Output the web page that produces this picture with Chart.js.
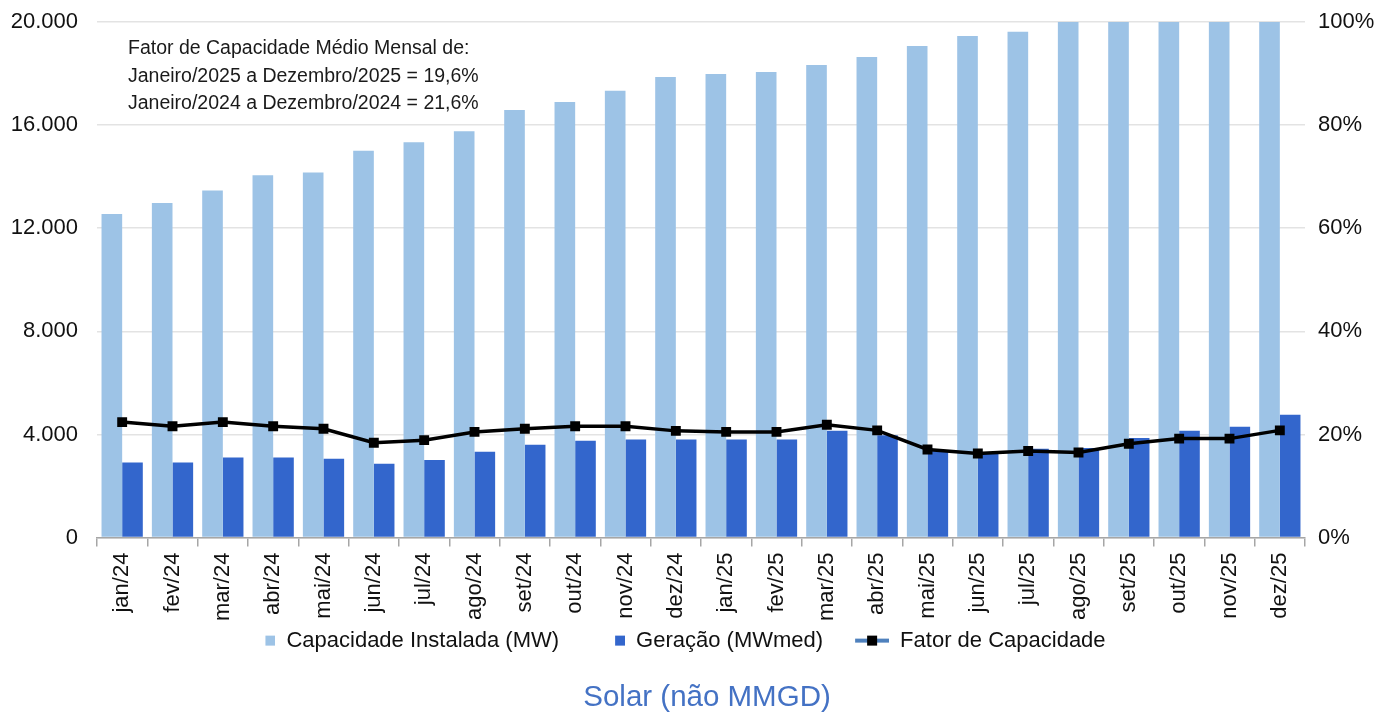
<!DOCTYPE html>
<html>
<head>
<meta charset="utf-8">
<script src="https://cdn.jsdelivr.net/npm/chart.js@4.4.1/dist/chart.umd.min.js"></script>
<style>
  html, body { margin: 0; padding: 0; background: #fff; }
  #wrap { width: 1378px; height: 713px; }
</style>
</head>
<body>
<div id="wrap"><canvas id="grafico"></canvas></div>
<script>
// meses jan/24 .. dez/25
const meses = ["jan/24","fev/24","mar/24","abr/24","mai/24","jun/24","jul/24","ago/24","set/24","out/24","nov/24","dez/24",
               "jan/25","fev/25","mar/25","abr/25","mai/25","jun/25","jul/25","ago/25","set/25","out/25","nov/25","dez/25"];

// Capacidade Instalada (MW) - barras claras (ago/25 em diante passam do topo do eixo)
const capacidade = [12550, 12980, 13460, 14060, 14160, 15010, 15340, 15760, 16590, 16900, 17330, 17870,
                    17980, 18060, 18330, 18640, 19070, 19460, 19620, 20300, 20700, 21000, 21300, 21600];

// Geração (MWmed) - barras escuras
const geracao = [2910, 2910, 3110, 3110, 3060, 2860, 3010, 3330, 3600, 3760, 3810, 3810,
                 3810, 3810, 4140, 3970, 3380, 3290, 3450, 3480, 3860, 4140, 4300, 4770];

// Fator de Capacidade (%) - eixo da direita
const fator = [22.4, 21.6, 22.4, 21.6, 21.1, 18.4, 18.9, 20.5, 21.1, 21.6, 21.6, 20.7,
               20.5, 20.5, 21.9, 20.8, 17.1, 16.3, 16.8, 16.5, 18.2, 19.2, 19.2, 20.8];

const notaLinhas = [
  "Fator de Capacidade Médio Mensal de:",
  "Janeiro/2025 a Dezembro/2025 = 19,6%",
  "Janeiro/2024 a Dezembro/2024 = 21,6%"
];

const CLARO = "#9dc3e6";
const ESCURO = "#3366cc";
const FONTE = "'Liberation Sans', Arial, sans-serif";
const ICONE_W = 63;

// formata 20000 -> "20.000"
function milhar(v) {
  return String(v).replace(/\B(?=(\d{3})+(?!\d))/g, ".");
}

// icones da legenda: conteudo encostado na direita, espaco vazio a esquerda
function iconeQuadrado(cor) {
  const c = document.createElement("canvas");
  c.width = ICONE_W; c.height = 12;
  const g = c.getContext("2d");
  g.fillStyle = cor;
  g.fillRect(ICONE_W - 10, 1, 10, 10);
  return c;
}
function iconeLinha() {
  const c = document.createElement("canvas");
  c.width = ICONE_W; c.height = 12;
  const g = c.getContext("2d");
  g.strokeStyle = "#4f81bd";
  g.lineWidth = 4;
  g.beginPath(); g.moveTo(ICONE_W - 34, 6); g.lineTo(ICONE_W, 6); g.stroke();
  g.fillStyle = "#000";
  g.fillRect(ICONE_W - 22, 1, 10, 10);
  return c;
}
const icones = [iconeQuadrado(CLARO), iconeQuadrado(ESCURO), iconeLinha()];

// texto da nota no canto superior esquerdo
const notaPlugin = {
  id: "nota",
  afterDraw(chart) {
    const ctx = chart.ctx;
    ctx.save();
    ctx.font = "19.5px " + FONTE;
    ctx.fillStyle = "#1a1a1a";
    ctx.textBaseline = "middle";
    notaLinhas.forEach((t, i) => ctx.fillText(t, 128, 49 + i * 27.5));
    ctx.restore();
  }
};

// legenda e titulo do original nao ficam centrados na tela
const deslocaPlugin = {
  id: "desloca",
  afterLayout(chart) {
    if (chart.legend) { chart.legend.left -= 30; chart.legend.right -= 30; }
    if (chart.titleBlock) { chart.titleBlock.left += 18; chart.titleBlock.right += 18; }
  }
};

const ctx = document.getElementById("grafico").getContext("2d");
new Chart(ctx, {
  data: {
    labels: meses,
    datasets: [
      {
        type: "bar",
        label: "Capacidade Instalada (MW)",
        data: capacidade,
        backgroundColor: CLARO,
        yAxisID: "y",
        order: 2,
        barPercentage: 1,
        categoryPercentage: 0.82
      },
      {
        type: "bar",
        label: "Geração (MWmed)",
        data: geracao,
        backgroundColor: ESCURO,
        yAxisID: "y",
        order: 2,
        barPercentage: 1,
        categoryPercentage: 0.82
      },
      {
        type: "line",
        label: "Fator de Capacidade",
        data: fator,
        yAxisID: "y1",
        borderColor: "#000",
        backgroundColor: "#000",
        borderWidth: 3.5,
        pointStyle: "rect",
        pointRadius: 7,
        pointBackgroundColor: "#000",
        pointBorderWidth: 0,
        tension: 0,
        order: 0
      }
    ]
  },
  options: {
    responsive: true,
    maintainAspectRatio: false,
    animation: false,
    layout: { padding: { top: 22, left: 0, right: 0, bottom: 0 } },
    scales: {
      x: {
        grid: { display: true, drawOnChartArea: false, drawTicks: true, tickLength: 9, color: "#a6a6a6", lineWidth: 1.5 },
        border: { display: true, color: "#a6a6a6", width: 1.5 },
        ticks: { color: "#111", font: { family: FONTE, size: 22 }, minRotation: 90, maxRotation: 90, padding: 6, autoSkip: false },
        afterFit(s) { s.height = 89; }
      },
      y: {
        position: "left",
        min: 0, max: 20000,
        ticks: { stepSize: 4000, color: "#111", font: { family: FONTE, size: 22 }, padding: 3, callback: v => milhar(v) },
        grid: { color: "#e3e3e3", lineWidth: 1.5, drawTicks: true, tickLength: 16, tickColor: "rgba(0,0,0,0)" },
        border: { display: false },
        afterFit(s) { s.width = 97; }
      },
      y1: {
        position: "right",
        min: 0, max: 100,
        ticks: { stepSize: 20, color: "#111", font: { family: FONTE, size: 22 }, padding: 3, callback: v => v + "%" },
        grid: { drawOnChartArea: false, drawTicks: true, tickLength: 10, tickColor: "rgba(0,0,0,0)" },
        border: { display: false },
        afterFit(s) { s.width = 73; }
      }
    },
    plugins: {
      legend: {
        position: "bottom",
        labels: {
          usePointStyle: true,
          pointStyleWidth: ICONE_W,
          padding: 3,
          color: "#111",
          font: { family: FONTE, size: 22 },
          sort: (a, b) => a.datasetIndex - b.datasetIndex,
          generateLabels(chart) {
            const itens = Chart.defaults.plugins.legend.labels.generateLabels(chart);
            itens.forEach(it => { it.pointStyle = icones[it.datasetIndex]; });
            return itens;
          }
        }
      },
      title: {
        display: true,
        position: "bottom",
        text: "Solar (não MMGD)",
        color: "#4472c4",
        font: { family: FONTE, size: 29.5, weight: "normal" },
        padding: { top: 19, bottom: -3 }
      },
      tooltip: { enabled: false }
    }
  },
  plugins: [notaPlugin, deslocaPlugin]
});
</script>
</body>
</html>
